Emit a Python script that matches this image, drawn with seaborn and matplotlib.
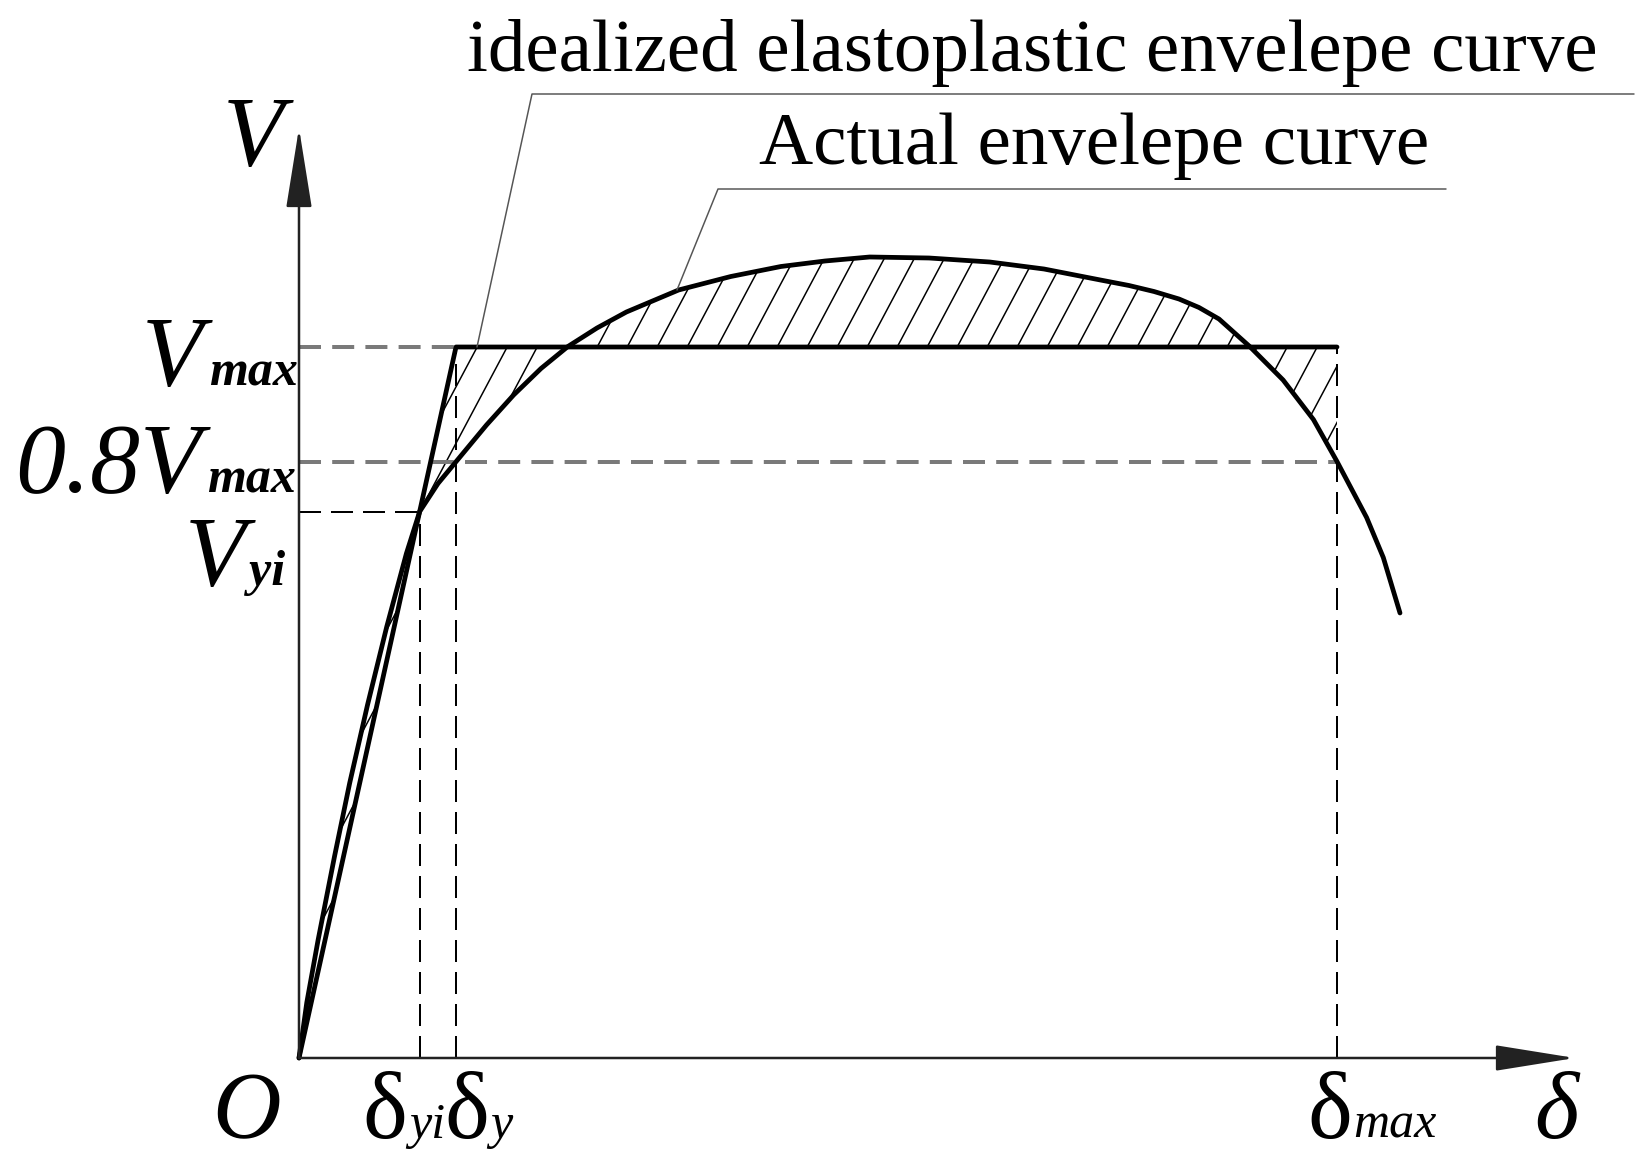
import numpy as np
import matplotlib
matplotlib.use("Agg")
import matplotlib.pyplot as plt
import seaborn as sns

# actual envelope curve (delta in mm, V in kN)
delta_act = [0, 0.78, 1.91, 3.56, 5.07, 6.85, 8.78, 10.74, 12.07, 13.9, 15.72,
             18.75, 21.46, 24.2, 26.89, 29.8, 32.74, 37.96, 43.18, 48.19, 52.6,
             57.07, 63.0, 69.07, 74.5, 80.14, 83.0, 85.5, 88.0, 90.0, 92.0,
             95.07, 98.41, 101.44, 103.8, 106.76, 108.43, 110.1]
v_act = [0, 11.1, 23.6, 40.4, 55.0, 70.6, 86.3, 100.9, 109.3, 114.9, 119.3,
         126.6, 132.6, 137.9, 142.3, 146.0, 149.2, 153.6, 156.3, 158.3, 159.4,
         160.2, 160.0, 159.2, 157.8, 155.6, 154.5, 153.3, 151.8, 150.1, 147.8,
         142.3, 135.6, 127.7, 119.3, 108.1, 100.1, 89.0]

# idealized elastoplastic envelope
delta_ideal = [0, 15.7, 103.8]
v_ideal = [0, 142.2, 142.2]

# characteristic points
d_yi, d_y, d_max = 12.07, 15.7, 103.8
v_yi, v_08, v_max = 109.3, 119.3, 142.2

sns.set_theme(style="white")
plt.rcParams['font.family'] = ['Liberation Serif', 'DejaVu Serif']
plt.rcParams['text.color'] = 'black'

fig = plt.figure(figsize=(1637 / 180, 1157 / 180), dpi=180)
ax = fig.add_axes([0, 0, 1, 1])
ax.set_xlim(-29.9, 133.8)
ax.set_ylim(-19.8, 211.6)
ax.axis('off')

# hatched area between the two curves
n_fill = delta_act.index(d_max) + 1
region = ax.fill(delta_act[:n_fill] + [d_max, d_y, 0],
                 v_act[:n_fill] + [v_max, v_max, 0],
                 facecolor='none', edgecolor='none')[0]
for c in np.arange(-50, 108, 3.0):
    ln, = ax.plot([c, c + 60], [0, 60 * 3.76], color='black', lw=0.6)
    ln.set_clip_path(region)

# dashed guide lines
gray = dict(color='#7a7a7a', lw=1.6, dashes=(5.5, 2.8))
blk = dict(color='black', lw=0.8, dashes=(11, 5))
ax.plot([0, d_y], [v_max, v_max], **gray)
ax.plot([0, d_max], [v_08, v_08], **gray)
ax.plot([0, d_yi], [v_yi, v_yi], **blk)
ax.plot([d_yi, d_yi], [0, v_yi], **blk)
ax.plot([d_y, d_y], [0, v_max], **blk)
ax.plot([d_max, d_max], [0, v_max], **blk)

# curves
sns.lineplot(x=delta_ideal, y=v_ideal, ax=ax, color='black', lw=1.9,
             estimator=None, sort=False)
sns.lineplot(x=delta_act, y=v_act, ax=ax, color='black', lw=1.9,
             estimator=None, sort=False)

# axes with arrows
arrow = dict(arrowstyle='-|>,head_length=2.8,head_width=0.45', color='#222222',
             lw=1.0, shrinkA=0, shrinkB=0, mutation_scale=10)
ax.annotate('', xy=(0, 186), xytext=(0, 0), arrowprops=arrow)
ax.annotate('', xy=(127.6, 0), xytext=(0, 0), arrowprops=arrow)

# leader lines and captions
ax.plot([17.8, 23.3, 133.5], [142.2, 192.8, 192.8], color='#555555', lw=0.6)
ax.plot([37.8, 41.9, 114.7], [153.6, 173.8, 173.8], color='#555555', lw=0.6)
ax.text(16.8, 197.4, 'idealized elastoplastic envelepe curve', fontsize=30,
        ha='left', va='baseline')
ax.text(46.0, 178.8, 'Actual envelepe curve', fontsize=30,
        ha='left', va='baseline')

# axis labels
big = dict(fontsize=40, style='italic', va='baseline')
sub = dict(fontsize=20, style='italic', weight='bold', va='baseline')
ax.text(-7.6, 178.6, 'V', ha='left', **big)
ax.text(-9.6, 134.6, 'V', ha='right', **big)
ax.text(-9.0, 134.6, 'max', ha='left', **sub)
ax.text(-9.8, 113.2, '0.8V', ha='right', **big)
ax.text(-9.2, 113.2, 'max', ha='left', **sub)
ax.text(-5.3, 94.6, 'V', ha='right', **big)
ax.text(-5.0, 94.6, 'yi', ha='left', **sub)

dl = dict(fontsize=38, va='baseline', ha='left')
ds = dict(fontsize=20, style='italic', va='baseline', ha='left')
ax.text(-8.7, -16.0, 'O', style='italic', **dl)
ax.text(6.3, -16.0, 'δ', **dl)
ax.text(11.0, -16.0, 'yi', **ds)
ax.text(14.5, -16.0, 'δ', **dl)
ax.text(19.1, -16.0, 'y', **ds)
ax.text(100.8, -16.0, 'δ', **dl)
ax.text(105.4, -16.0, 'max', **ds)
ax.text(123.5, -16.0, 'δ', style='italic', **dl)

fig.savefig('out.png', dpi=180)
